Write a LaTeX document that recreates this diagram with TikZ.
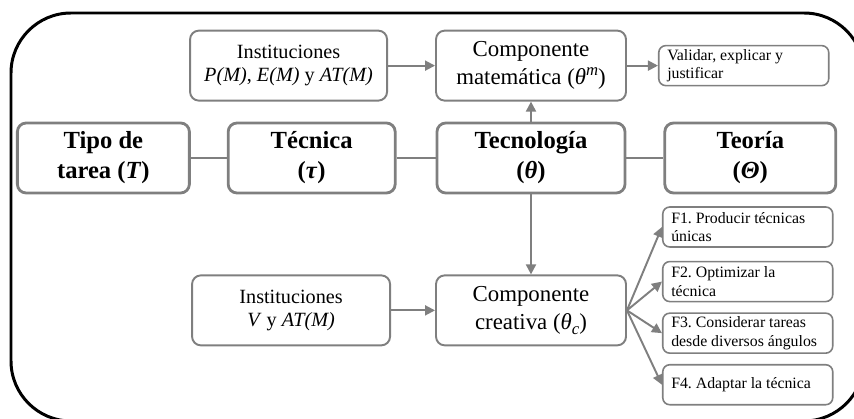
\documentclass[tikz,border=0pt]{standalone}
\usepackage{fontspec}
\setmainfont{Liberation Serif}
\frenchspacing
\usetikzlibrary{arrows.meta, positioning}
\definecolor{boxgray}{RGB}{127,127,127}

\begin{document}
\begin{tikzpicture}[
    node distance=0.4cm and 0.75cm,
    mainbox/.style={rectangle, draw=boxgray, line width=1.6pt, minimum width=3.4cm, minimum height=1.4cm, align=center, rounded corners=5pt, font=\fontsize{14}{17}\selectfont\bfseries},
    midbox/.style={rectangle, draw=boxgray, line width=1.1pt, minimum width=3.8cm, minimum height=1.4cm, align=center, rounded corners=5pt, font=\fontsize{13}{16}\selectfont},
    smallbox/.style={rectangle, draw=boxgray, line width=0.9pt, text width=3.06cm, inner xsep=0.17cm, inner ysep=1pt, minimum height=0.8cm, align=flush left, rounded corners=4pt, font=\fontsize{9}{10.6}\selectfont},
    link/.style={boxgray, line width=1.6pt},
    arrow/.style={-{Triangle[length=2mm, width=2mm]}, boxgray, line width=1.1pt}
]
\path[use as bounding box, clip] (0,0) rectangle (17.08,-8.38);

% outer frame
\draw[line width=1.7pt, rounded corners=1.2cm] (0.22,-0.26) rectangle (17.28,-8.42);

% ============ PRAXEOLOGY ROW ============
\node[mainbox, minimum width=3.76cm] (tecnologia) at (10.62,-3.16) {Tecnología\\(\textit{θ})};
\node[mainbox, minimum width=3.34cm, left=0.78cm of tecnologia] (tecnica) {Técnica\\(\textit{τ})};
\node[mainbox, minimum width=3.44cm, left=0.72cm of tecnica] (tipo) {Tipo de\\tarea (\textit{T})};
\node[mainbox, minimum width=3.42cm, right=0.74cm of tecnologia] (teoria) {Teoría\\(\textit{Θ})};

% ============ MATHEMATICAL COMPONENT (TOP) ============
\node[midbox, above=0.4cm of tecnologia] (matematica) {Componente\\matemática (\textit{θ}\raisebox{0.9ex}{\fontsize{9.5}{10}\selectfont\textit{m}})};
\node[midbox, minimum width=3.94cm, font=\fontsize{11.5}{13.5}\selectfont, left=0.94cm of matematica] (instP) {Instituciones\\\textit{P(M)}, \textit{E(M)} y \textit{AT(M)}};
\node[smallbox, right=0.62cm of matematica] (validar) {Validar, explicar y\\justificar};

% ============ CREATIVE COMPONENT (BOTTOM) ============
\node[midbox, below=1.6cm of tecnologia] (creativa) {Componente\\creativa (\textit{θ}\raisebox{-0.5ex}{\fontsize{9.5}{10}\selectfont\textit{c}})};
\node[midbox, minimum width=3.96cm, font=\fontsize{11.5}{13.5}\selectfont, left=0.88cm of creativa] (instV) {Instituciones\\\textit{V} y \textit{AT(M)}};

% Functions of the creative component
\node[smallbox, above right=0.16cm and 0.7cm of creativa.east] (f2) {F2. Optimizar la\\técnica};
\node[smallbox, above=0.26cm of f2] (f1) {F1. Producir técnicas\\únicas};
\node[smallbox, below=0.2cm of f2] (f3) {F3. Considerar tareas\\desde diversos ángulos};
\node[smallbox, below=0.2cm of f3] (f4) {F4. Adaptar la técnica};

% Links between the row
\draw[link] (tipo) -- (tecnica);
\draw[link] (tecnica) -- (tecnologia);
\draw[link] (tecnologia) -- (teoria);

% Arrows
\draw[arrow] (instP) -- (matematica);
\draw[arrow] (matematica) -- (validar);
\draw[arrow] (tecnologia) -- (matematica);
\draw[arrow] (tecnologia) -- (creativa);
\draw[arrow] (instV) -- (creativa);
\foreach \f in {f1, f2, f3, f4}
    \draw[arrow] (creativa.east) -- (\f.west);

\end{tikzpicture}
\end{document}
